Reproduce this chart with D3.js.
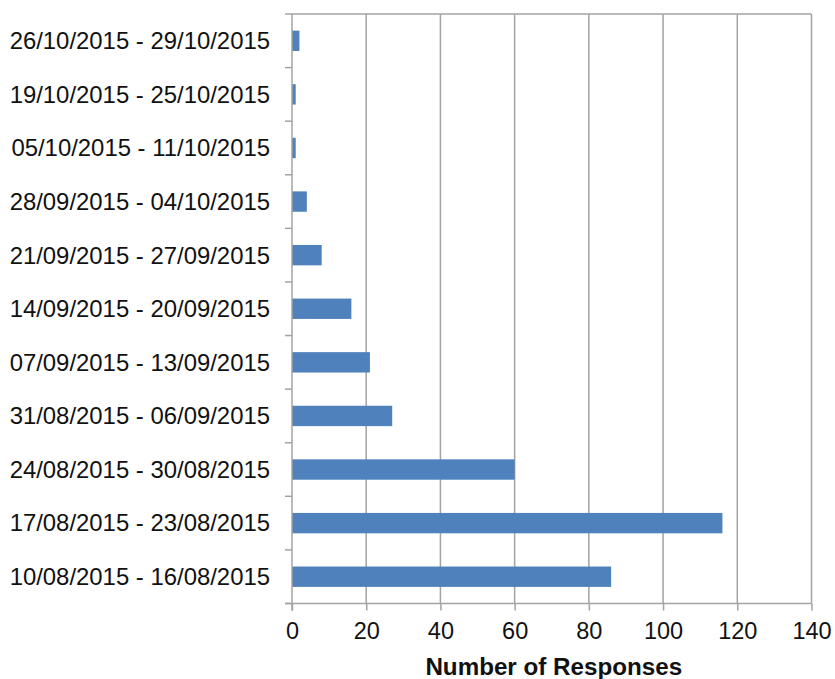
<!DOCTYPE html>
<html>
<head>
<meta charset="utf-8">
<script src="https://cdn.jsdelivr.net/npm/d3@7"></script>
<style>
  html, body { margin: 0; padding: 0; background: #fff; }
  svg { display: block; }
  text { font-family: "Liberation Sans", Arial, sans-serif; fill: #111; }
</style>
</head>
<body>
<svg id="chart" width="835" height="679"></svg>
<script>
// Categories listed bottom-to-top (first category at bottom, as in the chart)
const categories = [
  "10/08/2015 - 16/08/2015",
  "17/08/2015 - 23/08/2015",
  "24/08/2015 - 30/08/2015",
  "31/08/2015 - 06/09/2015",
  "07/09/2015 - 13/09/2015",
  "14/09/2015 - 20/09/2015",
  "21/09/2015 - 27/09/2015",
  "28/09/2015 - 04/10/2015",
  "05/10/2015 - 11/10/2015",
  "19/10/2015 - 25/10/2015",
  "26/10/2015 - 29/10/2015"
];
const responses = [86, 116, 60, 27, 21, 16, 8, 4, 1, 1, 2];
const xTicks = [0, 20, 40, 60, 80, 100, 120, 140];
const xTitle = "Number of Responses";

(function () {
const svg = d3.select("#chart");
const pL = 292, pR = 811.5, pT = 14, pB = 603.5;
const gridColor = "#a3a3a3";

const x = d3.scaleLinear().domain([0, 140]).range([pL, pR]);
const order = categories.slice().reverse();
const y = d3.scaleBand().domain(order).range([pT, pB]).paddingInner(0.62).paddingOuter(0.31);
const yb = d3.scaleBand().domain(order).range([pT, pB]);

// vertical gridlines
svg.append("g").selectAll("line").data(xTicks.slice(1)).join("line")
  .attr("x1", d => x(d)).attr("x2", d => x(d))
  .attr("y1", pT).attr("y2", pB)
  .attr("stroke", gridColor).attr("stroke-width", 1.5);

// top border
svg.append("line").attr("x1", pL - 7).attr("x2", pR).attr("y1", pT).attr("y2", pT)
  .attr("stroke", gridColor).attr("stroke-width", 1.5);

// bars
svg.append("g").selectAll("rect").data(categories).join("rect")
  .attr("x", x(0))
  .attr("y", d => y(d))
  .attr("width", (d, i) => x(responses[i]) - x(0))
  .attr("height", y.bandwidth())
  .attr("fill", "#4f81bd");

// x axis
const xAxis = d3.axisBottom(x).tickValues(xTicks).tickSize(7).tickPadding(12).tickFormat(d3.format("d"));
const gx = svg.append("g").attr("transform", `translate(0,${pB})`).call(xAxis);
gx.select(".domain").attr("stroke", gridColor).attr("stroke-width", 1.5).attr("d", `M${pL - 7},0H${pR}`);
gx.selectAll(".tick line").attr("stroke", gridColor).attr("stroke-width", 1.5);
gx.selectAll(".tick text").style("font-size", "23.5px").style("font-family", "'Liberation Sans', Arial, sans-serif").attr("fill", "#111");

// y axis (band boundaries as ticks)
const gy = svg.append("g");
gy.append("line").attr("x1", pL).attr("x2", pL).attr("y1", pT).attr("y2", pB + 7)
  .attr("stroke", gridColor).attr("stroke-width", 1.5);
gy.selectAll("line.tk").data(categories).join("line").attr("class", "tk")
  .attr("x1", pL - 7).attr("x2", pL)
  .attr("y1", d => yb(d) + yb.bandwidth()).attr("y2", d => yb(d) + yb.bandwidth())
  .attr("stroke", gridColor).attr("stroke-width", 1.5);
gy.selectAll("text").data(categories).join("text")
  .attr("x", 270)
  .attr("y", d => yb(d) + yb.bandwidth() / 2)
  .attr("dy", "0.35em")
  .attr("text-anchor", "end")
  .style("font-size", "23.9px")
  .text(d => d);

// x title
svg.append("text")
  .attr("x", (pL + pR) / 2 + 2)
  .attr("y", 675)
  .attr("text-anchor", "middle")
  .style("font-size", "24.2px")
  .style("font-weight", "bold")
  .text(xTitle);
})();
</script>
</body>
</html>
